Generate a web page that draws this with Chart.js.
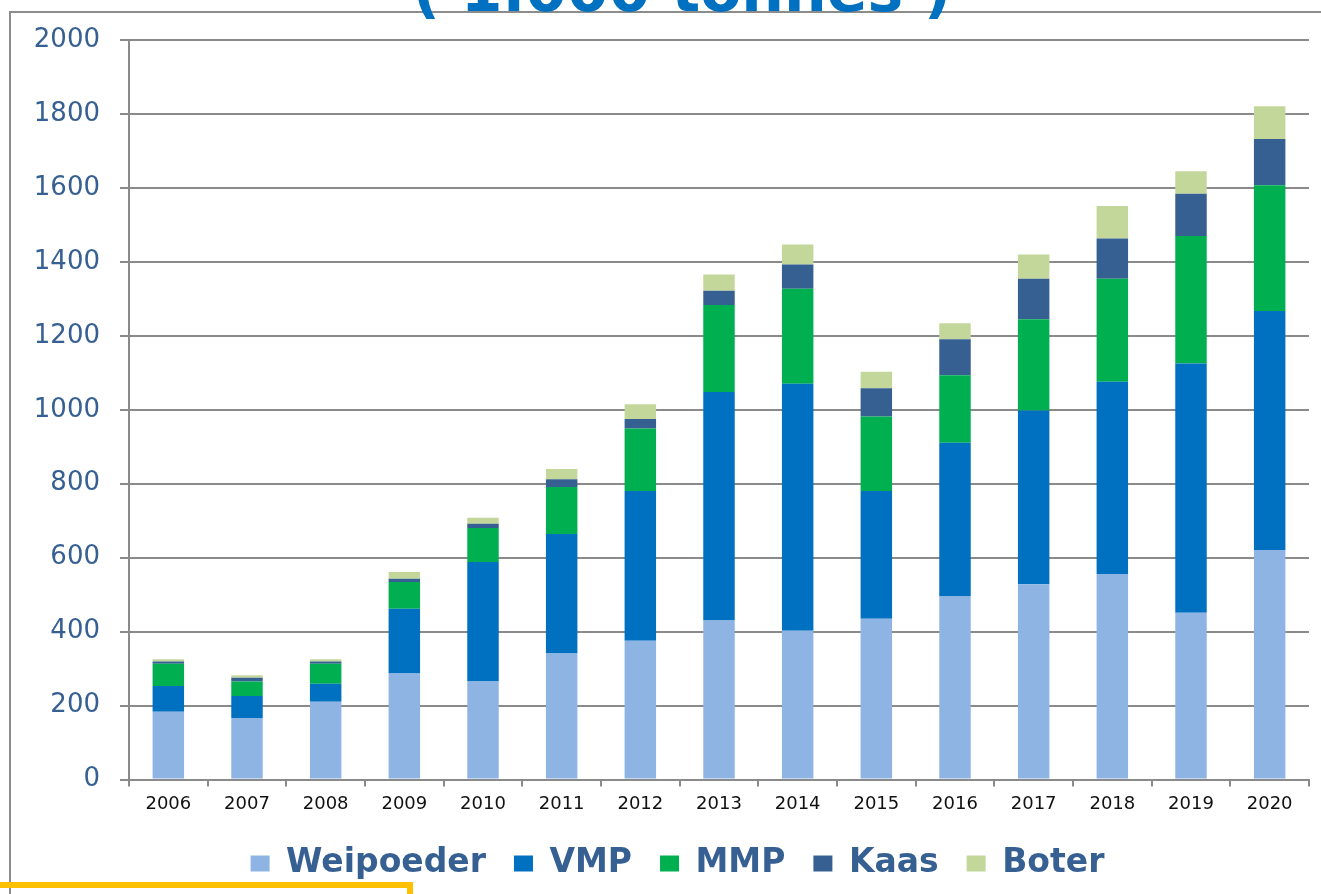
<!DOCTYPE html>
<html>
<head>
<meta charset="utf-8">
<script src="https://cdn.jsdelivr.net/npm/chart.js@4/dist/chart.umd.min.js"></script>
<style>
  html, body { margin: 0; padding: 0; background: #ffffff; }
  #wrap { width: 1321px; height: 894px; position: relative; }
</style>
</head>
<body>
<div id="wrap"><canvas id="c" width="1321" height="894"></canvas></div>
<script>
const years = ['2006','2007','2008','2009','2010','2011','2012','2013','2014','2015','2016','2017','2018','2019','2020'];
const weipoeder = [183,166,210,287,265,341,375,430,402,435,495,528,556,451,621];
const vmp       = [70,60,49,175,323,323,405,618,668,345,416,470,520,674,646];
const mmp       = [60,39,54,72,92,127,169,235,257,202,182,247,278,345,340];
const kaas      = [6,10,6,9,12,21,26,39,66,76,98,109,109,114,125];
const boter     = [6,7,6,18,16,28,40,44,54,45,43,66,88,61,89];
const titleText = '( 1.000 tonnes )';

const gridColor = '#8a8a8a';

const decor = {
  id: 'decor',
  beforeDraw(chart) {
    const ctx = chart.ctx;
    if (chart.legend && !chart.legend._shifted) {
      chart.legend.left += 23;
      chart.legend.right += 23;
      chart.legend._shifted = true;
    }
    ctx.save();
    ctx.fillStyle = '#ffffff';
    ctx.fillRect(0, 0, chart.width, chart.height);
    ctx.strokeStyle = '#8c8c8c';
    ctx.lineWidth = 2;
    ctx.beginPath();
    ctx.moveTo(10, 894);
    ctx.lineTo(10, 12);
    ctx.lineTo(1321, 12);
    ctx.stroke();
    ctx.restore();
  },
  afterDraw(chart) {
    const ctx = chart.ctx;
    ctx.save();
    ctx.fillStyle = '#0070C0';
    ctx.font = 'bold 60px "DejaVu Sans"';
    ctx.textAlign = 'center';
    ctx.textBaseline = 'alphabetic';
    ctx.fillText(titleText, 682, 11);
    ctx.strokeStyle = '#FFC000';
    ctx.lineWidth = 6;
    ctx.strokeRect(-10, 885, 420, 40);
    ctx.restore();
  }
};

new Chart(document.getElementById('c'), {
  type: 'bar',
  data: {
    labels: years,
    datasets: [
      { label: 'Weipoeder', data: weipoeder, backgroundColor: '#8EB4E3' },
      { label: 'VMP', data: vmp, backgroundColor: '#0070C0' },
      { label: 'MMP', data: mmp, backgroundColor: '#00B050' },
      { label: 'Kaas', data: kaas, backgroundColor: '#376092' },
      { label: 'Boter', data: boter, backgroundColor: '#C4D79B' }
    ]
  },
  options: {
    responsive: false,
    animation: false,
    devicePixelRatio: 1,
    layout: { padding: { top: 40, right: 12, left: 0, bottom: 4 } },
    datasets: { bar: { categoryPercentage: 1.0, barPercentage: 0.4, borderWidth: 0 } },
    scales: {
      x: {
        stacked: true,
        offset: true,
        grid: { display: true, drawOnChartArea: false, drawTicks: true, tickLength: 7, color: gridColor, lineWidth: 2, offset: true },
        border: { display: true, color: gridColor, width: 2 },
        ticks: { color: '#111111', font: { family: 'DejaVu Sans', size: 18 }, padding: 7, maxRotation: 0, autoSkip: false },
        afterFit(scale) { scale.height = 39.5; }
      },
      y: {
        stacked: true,
        min: 0,
        max: 2000,
        grid: { color: gridColor, lineWidth: 2, tickLength: 9, drawTicks: true },
        border: { display: true, color: gridColor, width: 2 },
        ticks: {
          stepSize: 200,
          color: '#376092',
          font: { family: 'DejaVu Sans', size: 26 },
          padding: 20,
          callback: (v) => String(v)
        },
        afterFit(scale) { scale.width = 129; }
      }
    },
    plugins: {
      legend: {
        position: 'bottom',
        labels: {
          boxWidth: 19,
          boxHeight: 16,
          padding: 28,
          color: '#376092',
          font: { family: 'DejaVu Sans', size: 33, weight: 'bold' }
        }
      },
      tooltip: { enabled: false },
      title: { display: false }
    }
  },
  plugins: [decor]
});
</script>
</body>
</html>
